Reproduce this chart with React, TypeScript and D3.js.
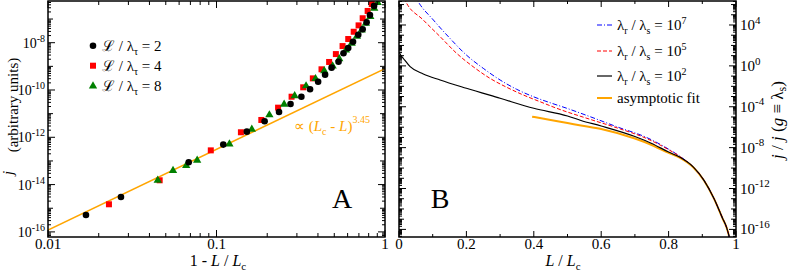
import React from "react";
import * as d3 from "d3";

// ---- panel A: j against 1 - L/Lc ----
const circX = [0.0168, 0.0271, 0.0684, 0.1097, 0.1514, 0.193, 0.235, 0.275, 0.319, 0.359, 0.401, 0.441, 0.482, 0.53, 0.567, 0.605, 0.646, 0.694, 0.737, 0.778, 0.814, 0.861];
const circY = [5.2e-16, 3.0e-15, 8.8e-14, 4.9e-13, 1.73e-12, 4.75e-12, 1.17e-11, 2.56e-11, 5.2e-11, 1.07e-10, 2.24e-10, 4.4e-10, 8.8e-10, 1.57e-9, 3.6e-9, 6.0e-9, 1.1e-8, 2.18e-8, 3.7e-8, 7.3e-8, 1.48e-7, 3.6e-7];
const sqX = [0.023, 0.046, 0.0925, 0.1396, 0.1845, 0.232, 0.279, 0.327, 0.373, 0.42, 0.466, 0.511, 0.56, 0.605, 0.652, 0.697, 0.737, 0.789, 0.834];
const sqY = [1.47e-15, 1.52e-14, 2.8e-13, 1.63e-12, 5.4e-12, 1.79e-11, 5.2e-11, 1.3e-10, 3.1e-10, 7.5e-10, 1.53e-9, 3.3e-9, 7.2e-9, 1.43e-8, 2.9e-8, 5.4e-8, 1.08e-7, 2.2e-7, 4.3e-7];
const triX = [0.0448, 0.0552, 0.0661, 0.0768, 0.1193, 0.162, 0.206, 0.252, 0.291, 0.34, 0.387, 0.436, 0.489, 0.535, 0.586, 0.634, 0.681, 0.727, 0.77, 0.818, 0.863, 0.905];
const triY = [1.52e-14, 3.9e-14, 6.3e-14, 1.07e-13, 5.2e-13, 2.18e-12, 8.8e-12, 2.5e-11, 5.7e-11, 1.48e-10, 3.0e-10, 6.4e-10, 1.03e-9, 2.1e-9, 4.9e-9, 9.4e-9, 1.87e-8, 3.4e-8, 6.6e-8, 1.26e-7, 2.85e-7, 4.9e-7];
const fitX = [0.01, 1];
const fitY = [1.2e-16, 8e-10];
const legendA = ["2", "4", "8"];
const tickLabelsAx = ["0.01", "0.1", "1"];
const tickExpAy = [-16, -14, -12, -10, -8];

// ---- panel B: j/j(g=λs) against L/Lc, values as log10 ----
const blackX = [0, 0.005, 0.012, 0.033, 0.072, 0.122, 0.2, 0.3, 0.4, 0.5, 0.54, 0.6, 0.7, 0.75, 0.8, 0.834, 0.873, 0.905, 0.935, 0.96, 0.972, 0.98, 0.985];
const blackLog = [1.36, 1.06, 0.77, -0.08, -0.79, -1.38, -2.19, -3.17, -4.15, -4.9, -5.34, -5.88, -6.91, -7.59, -8.43, -8.95, -9.89, -11.2, -13.0, -14.9, -15.8, -16.74, -17.6];
const redX = [0.01, 0.0178, 0.072, 0.122, 0.171, 0.22, 0.27, 0.32, 0.369, 0.418, 0.468, 0.567, 0.65, 0.735, 0.8, 0.834, 0.873, 0.905, 0.935, 0.96, 0.972, 0.98, 0.985];
const redLog = [7.2, 6.45, 4.49, 2.86, 1.23, -0.08, -1.22, -2.1, -2.85, -3.5, -4.15, -5.23, -6.1, -7.11, -8.2, -8.88, -9.89, -11.2, -13.0, -14.9, -15.8, -16.74, -17.6];
const blueX = [0.045, 0.057, 0.102, 0.151, 0.2, 0.25, 0.3, 0.349, 0.399, 0.448, 0.498, 0.567, 0.65, 0.735, 0.8, 0.834, 0.873, 0.905, 0.935, 0.96, 0.972, 0.98, 0.985];
const blueLog = [7.0, 6.28, 4.49, 2.7, 1.06, -0.24, -1.38, -2.29, -3.02, -3.6, -4.15, -4.97, -6.0, -7.01, -8.15, -8.86, -9.89, -11.2, -13.0, -14.9, -15.8, -16.74, -17.6];
const fitBX = [0.395, 0.45, 0.5, 0.54, 0.6, 0.7, 0.75, 0.8, 0.834, 0.873, 0.905, 0.935, 0.96, 0.972, 0.98, 0.985];
const fitBLog = [-4.97, -5.3, -5.59, -5.83, -6.17, -7.11, -7.74, -8.52, -9.0, -9.92, -11.22, -13.02, -14.92, -15.82, -16.76, -17.6];
const legendBExp = ["7", "5", "2"];
const tickLabelsBx = ["0", "0.2", "0.4", "0.6", "0.8", "1"];
const tickExpBy = [-16, -12, -8, -4, 0, 4];

const FONT = "'Liberation Serif', 'Times New Roman', serif";
const ORANGE = "#ffa500";

// plot boxes
const A = { x0: 48, x1: 385, y0: 1, y1: 237 };
const B = { x0: 399, x1: 736, y0: 1, y1: 237 };

const xA = d3.scaleLog().domain([0.01, 1]).range([A.x0, A.x1]);
const yA = d3.scaleLog().domain([Math.pow(10, -16.216), Math.pow(10, -6.237)]).range([A.y1, A.y0]);
const xB = d3.scaleLinear().domain([0, 1]).range([B.x0, B.x1]);
const yB = d3.scaleLog().domain([Math.pow(10, -16.744), Math.pow(10, 6.348)]).range([B.y1, B.y0]);

// log ticks inside [lo, hi] (in decades)
function logTicks(lo: number, hi: number) {
  const out: { v: number; e: number; m: number }[] = [];
  for (let e = Math.floor(lo); e <= Math.ceil(hi); e++) {
    for (let m = 1; m < 10; m++) {
      const l = e + Math.log10(m);
      if (l >= lo - 1e-9 && l <= hi + 1e-9) out.push({ v: Math.pow(10, l), e, m });
    }
  }
  return out;
}

const pts = (xs: number[], ys: number[]) => xs.map((x, i) => [x, ys[i]] as [number, number]);

function Sup({ base, exp, x, y, anchor, size, supSize }: any) {
  return (
    <text x={x} y={y} textAnchor={anchor} fontSize={size}>
      {base}
      <tspan dy={-size * 0.42} fontSize={supSize}>{exp}</tspan>
    </text>
  );
}

export default function App() {
  const lineA = d3.line<[number, number]>().x((d) => xA(d[0])).y((d) => yA(d[1]));
  const lineB = d3
    .line<[number, number]>()
    .x((d) => xB(d[0]))
    .y((d) => yB(Math.pow(10, d[1])))
    .curve(d3.curveMonotoneX);

  const tri = d3.symbol().type(d3.symbolTriangle).size(30)();

  const axTicks = logTicks(-2, 0);
  const ayTicks = logTicks(-16.216, -6.237);
  const bxTicks = d3.range(0, 1.0001, 0.1);
  const byTicks = logTicks(-16.744, 6.348);

  const tickPaths: string[] = [];
  axTicks.forEach((t) => {
    const x = xA(t.v);
    const len = t.m === 1 ? 7 : 4;
    tickPaths.push(`M${x},${A.y1}v${-len}M${x},${A.y0}v${len}`);
  });
  ayTicks.forEach((t) => {
    const y = yA(t.v);
    const len = t.m === 1 ? (t.e % 2 === 0 ? 7 : 5) : 3;
    tickPaths.push(`M${A.x0},${y}h${len}M${A.x1},${y}h${-len}`);
  });
  bxTicks.forEach((v, i) => {
    const x = xB(v);
    const len = i % 2 === 0 ? 6 : 3;
    tickPaths.push(`M${x},${B.y1}v${-len}M${x},${B.y0}v${len}`);
  });
  byTicks.forEach((t) => {
    const y = yB(t.v);
    const len = t.m === 1 ? (t.e % 4 === 0 ? 7 : 5) : 3;
    tickPaths.push(`M${B.x0},${y}h${len}M${B.x1},${y}h${-len}`);
  });

  const legendMarks = [
    (x: number, y: number) => <circle cx={x} cy={y} r={3.3} fill="#000" />,
    (x: number, y: number) => <rect x={x - 3} y={y - 3} width={6} height={6} fill="#ff0000" />,
    (x: number, y: number) => <path d={tri!} transform={`translate(${x},${y})`} fill="#008000" />,
  ];
  const legendARows = [45.7, 65.7, 86];
  const legendBRows = [25, 51, 76, 98];
  const legendBStyles = [
    { stroke: "#0000ff", dash: "5,2,1,2", w: 1 },
    { stroke: "#ff0000", dash: "4,2", w: 1 },
    { stroke: "#000", dash: "none", w: 1.2 },
    { stroke: ORANGE, dash: "none", w: 2 },
  ];

  return (
    <svg
      width={789}
      height={273}
      style={{ position: "absolute", left: 0, top: 0, background: "#fff" }}
      fontFamily={FONT}
    >
      <defs>
        <clipPath id="clipA">
          <rect x={A.x0} y={A.y0} width={A.x1 - A.x0} height={A.y1 - A.y0} />
        </clipPath>
        <clipPath id="clipB">
          <rect x={B.x0} y={B.y0} width={B.x1 - B.x0} height={B.y1 - B.y0} />
        </clipPath>
      </defs>

      {/* panel A data */}
      <g clipPath="url(#clipA)">
        <path d={lineA(pts(fitX, fitY))!} fill="none" stroke={ORANGE} strokeWidth={1.6} />
        {pts(sqX, sqY).map((d, i) => (
          <rect key={"s" + i} x={xA(d[0]) - 3} y={yA(d[1]) - 3} width={6} height={6} fill="#ff0000" />
        ))}
        {pts(triX, triY).map((d, i) => (
          <path key={"t" + i} d={tri!} transform={`translate(${xA(d[0])},${yA(d[1])})`} fill="#008000" />
        ))}
        {pts(circX, circY).map((d, i) => (
          <circle key={"c" + i} cx={xA(d[0])} cy={yA(d[1])} r={3.3} fill="#000" />
        ))}
      </g>

      {/* panel B curves */}
      <g clipPath="url(#clipB)" fill="none">
        <path d={lineB(pts(fitBX, fitBLog))!} stroke={ORANGE} strokeWidth={2} />
        <path d={lineB(pts(blueX, blueLog))!} stroke="#0000ff" strokeWidth={1} strokeDasharray="5,2,1,2" />
        <path d={lineB(pts(redX, redLog))!} stroke="#ff0000" strokeWidth={1} strokeDasharray="4,2" />
        <path d={lineB(pts(blackX, blackLog))!} stroke="#000" strokeWidth={1.2} />
      </g>

      {/* frames and ticks */}
      <path d={tickPaths.join("")} stroke="#000" strokeWidth={1} fill="none" />
      <rect x={A.x0} y={A.y0} width={A.x1 - A.x0} height={A.y1 - A.y0} fill="none" stroke="#000" strokeWidth={1.5} />
      <rect x={B.x0} y={B.y0} width={B.x1 - B.x0} height={B.y1 - B.y0} fill="none" stroke="#000" strokeWidth={1.5} />

      {/* panel A tick labels */}
      {[0.01, 0.1, 1].map((v, i) => (
        <text key={"ax" + i} x={xA(v)} y={249} textAnchor="middle" fontSize={15}>
          {tickLabelsAx[i]}
        </text>
      ))}
      {tickExpAy.map((e) => (
        <Sup key={"ay" + e} base="10" exp={String(e)} x={45} y={yA(Math.pow(10, e)) + 5} anchor="end" size={14} supSize={10} />
      ))}

      {/* panel B tick labels */}
      {tickLabelsBx.map((s, i) => (
        <text key={"bx" + i} x={xB(i * 0.2)} y={249} textAnchor="middle" fontSize={15}>
          {s}
        </text>
      ))}
      {tickExpBy.map((e) => (
        <Sup key={"by" + e} base="10" exp={String(e)} x={740} y={yB(Math.pow(10, e)) + 5} anchor="start" size={15} supSize={11} />
      ))}

      {/* axis titles */}
      <text x={218} y={266} textAnchor="middle" fontSize={16}>
        1 - <tspan fontStyle="italic">L</tspan> / <tspan fontStyle="italic">L</tspan>
        <tspan dy={4} fontSize={11}>c</tspan>
      </text>
      <text x={563} y={266} textAnchor="middle" fontSize={16}>
        <tspan fontStyle="italic">L</tspan> / <tspan fontStyle="italic">L</tspan>
        <tspan dy={4} fontSize={11}>c</tspan>
      </text>
      <text transform="translate(13,173) rotate(-90)" textAnchor="middle" fontSize={15} fontStyle="italic">
        j
      </text>
      <text transform="translate(18,105) rotate(-90)" textAnchor="middle" fontSize={15}>
        (arbitrary units)
      </text>
      <text transform="translate(783,120) rotate(-90)" textAnchor="middle" fontSize={17}>
        <tspan fontStyle="italic">j</tspan> / <tspan fontStyle="italic">j</tspan> (<tspan fontStyle="italic">g</tspan> ≡ λ
        <tspan dy={3} fontSize={12}>s</tspan>
        <tspan dy={-3}>)</tspan>
      </text>

      {/* panel letters */}
      <text x={342} y={208} textAnchor="middle" fontSize={28}>A</text>
      <text x={440} y={208} textAnchor="middle" fontSize={28}>B</text>

      {/* fit annotation */}
      <text x={294} y={131} fill={ORANGE} fontSize={15}>
        ∝ (<tspan fontStyle="italic">L</tspan>
        <tspan dy={4} fontSize={10}>c</tspan>
        <tspan dy={-4}> - </tspan>
        <tspan fontStyle="italic">L</tspan>)
        <tspan dy={-8} fontSize={10}>3.45</tspan>
      </text>

      {/* legend A */}
      {legendA.map((v, i) => (
        <g key={"la" + i}>
          {legendMarks[i](93, legendARows[i])}
          <text x={102} y={legendARows[i] + 5} fontSize={15}>
            ℒ / λ<tspan dy={4} fontSize={10}>τ</tspan>
            <tspan dy={-4}> = {v}</tspan>
          </text>
        </g>
      ))}

      {/* legend B */}
      {legendBStyles.map((s, i) => (
        <g key={"lb" + i}>
          <line x1={597} x2={612} y1={legendBRows[i]} y2={legendBRows[i]} stroke={s.stroke} strokeWidth={s.w} strokeDasharray={s.dash} />
          {i < 3 ? (
            <text x={617} y={legendBRows[i] + 5} fontSize={15}>
              λ<tspan dy={4} fontSize={10}>r</tspan>
              <tspan dy={-4}> / λ</tspan>
              <tspan dy={4} fontSize={10}>s</tspan>
              <tspan dy={-4}> = 10</tspan>
              <tspan dy={-6} fontSize={10}>{legendBExp[i]}</tspan>
            </text>
          ) : (
            <text x={617} y={legendBRows[i] + 5} fontSize={15}>
              asymptotic fit
            </text>
          )}
        </g>
      ))}
    </svg>
  );
}
